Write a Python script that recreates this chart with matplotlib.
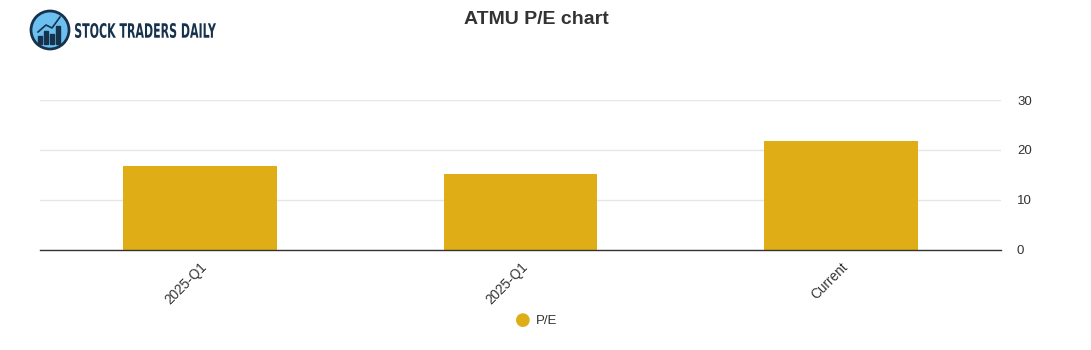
import matplotlib.pyplot as plt
from matplotlib.patches import Circle, Rectangle, PathPatch
from matplotlib.textpath import TextPath
from matplotlib.font_manager import FontProperties
from matplotlib.transforms import Affine2D

plt.rcParams['font.family'] = ['Liberation Sans', 'DejaVu Sans']

# data
categories = ['2025-Q1', '2025-Q1', 'Current']
pe_values = [16.8, 15.2, 21.8]
y_ticks = [0, 10, 20, 30]

bar_color = '#DFAE16'

fig = plt.figure(figsize=(10.91, 3.5), dpi=100)
ax = fig.add_axes([40 / 1091, 100 / 350, 961 / 1091, 150 / 350])

x = list(range(len(categories)))
ax.bar(x, pe_values, width=0.48, color=bar_color, zorder=2)
ax.set_xlim(-0.5, len(categories) - 0.5)
ax.set_ylim(0, 30)

ax.yaxis.tick_right()
ax.set_yticks(y_ticks)
ax.set_yticklabels([str(v) for v in y_ticks], fontsize=9.5, color='#333333')
ax.tick_params(axis='y', length=0, pad=11.5)
ax.grid(axis='y', color='#e6e6e6', linewidth=1, zorder=0)

ax.set_xticks(x)
ax.set_xticklabels(categories, rotation=45, ha='right', rotation_mode='anchor',
                   fontsize=9.8, color='#333333')
ax.tick_params(axis='x', length=0, pad=7)

for s in ['top', 'left', 'right']:
    ax.spines[s].set_visible(False)
ax.spines['bottom'].set_color('#333333')
ax.spines['bottom'].set_linewidth(1)

fig.text(536 / 1091, 1 - 19 / 350, 'ATMU P/E chart', ha='center', va='center',
         fontsize=14, fontweight='bold', color='#333333')

# legend
fig.text(523 / 1091, 1 - 320 / 350, '\u25CF', ha='center', va='center',
         fontsize=13, color=bar_color, family='DejaVu Sans')
fig.text(536 / 1091, 1 - 320.5 / 350, 'P/E', ha='left', va='center',
         fontsize=9.5, color='#333333')

# logo (pixel coords, y down)
lax = fig.add_axes([0, 1 - 60 / 350, 240 / 1091, 60 / 350])
lax.set_xlim(0, 240)
lax.set_ylim(60, 0)
lax.axis('off')
lax.add_patch(Circle((50, 30), 19, facecolor='#6cc0f0', edgecolor='#17324d', linewidth=2))
for bx, bh in [(40, 8), (46, 13), (52, 10), (58, 18)]:
    lax.add_patch(Rectangle((bx - 2, 44 - bh), 4, bh, color='#17324d'))
lax.plot([38, 46, 52, 60], [32, 25, 28, 17], color='#17324d', linewidth=1.2)

# condensed logo text: squeeze a text path horizontally
tp = TextPath((0, 0), 'STOCK TRADERS DAILY', size=1,
              prop=FontProperties(family='DejaVu Sans', weight='semibold'))
bb = tp.get_extents()
target_w, target_h = 141, 15
tr = Affine2D().translate(-bb.x0, -bb.y0).scale(target_w / bb.width, -target_h / bb.height).translate(75, 38)
lax.add_patch(PathPatch(tr.transform_path(tp), facecolor='#17324d', edgecolor='none'))

fig.savefig('out.png', dpi=100)
